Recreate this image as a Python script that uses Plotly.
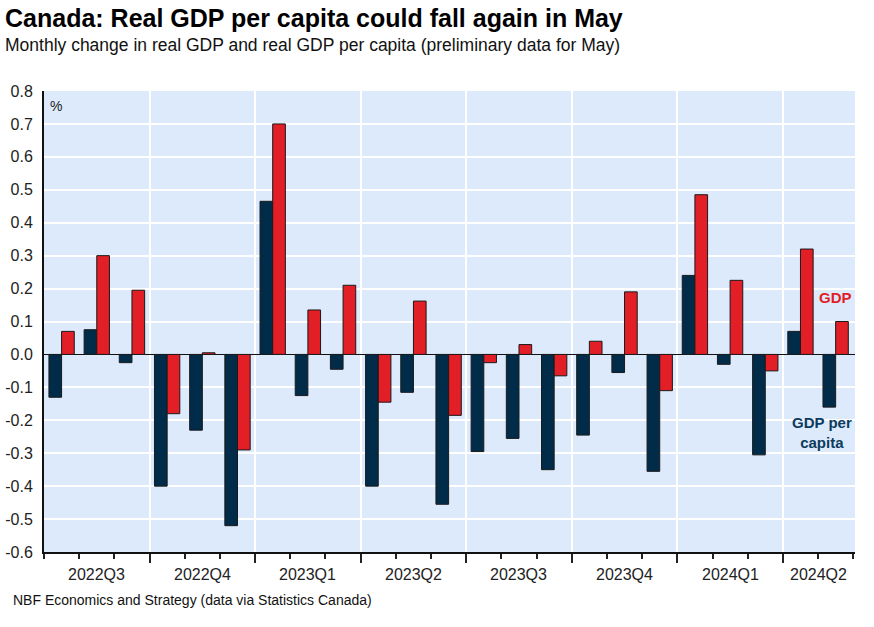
import plotly.graph_objects as go

months = ["2022-07","2022-08","2022-09","2022-10","2022-11","2022-12",
          "2023-01","2023-02","2023-03","2023-04","2023-05","2023-06",
          "2023-07","2023-08","2023-09","2023-10","2023-11","2023-12",
          "2024-01","2024-02","2024-03","2024-04","2024-05"]
gdp_per_capita = [-0.13, 0.075, -0.025, -0.40, -0.23, -0.52,
                  0.465, -0.125, -0.045, -0.40, -0.115, -0.455,
                  -0.295, -0.255, -0.35, -0.245, -0.055, -0.355,
                  0.24, -0.03, -0.305, 0.07, -0.16]
gdp = [0.07, 0.30, 0.195, -0.18, 0.005, -0.29,
       0.70, 0.135, 0.21, -0.145, 0.162, -0.185,
       -0.025, 0.03, -0.065, 0.04, 0.19, -0.11,
       0.485, 0.225, -0.05, 0.32, 0.10]
quarters = ["2022Q3","2022Q4","2023Q1","2023Q2","2023Q3","2023Q4","2024Q1","2024Q2"]
y_ticks = [0.8,0.7,0.6,0.5,0.4,0.3,0.2,0.1,0.0,-0.1,-0.2,-0.3,-0.4,-0.5,-0.6]

NAVY = "#002C4A"
RED = "#E21E26"
FONT = "Liberation Sans, Arial, sans-serif"

x = list(range(len(months)))
fig = go.Figure()
fig.add_bar(x=x, y=gdp_per_capita, name="GDP per capita", marker_color=NAVY,
            marker_line_color="#1a1a1a", marker_line_width=1)
fig.add_bar(x=x, y=gdp, name="GDP", marker_color=RED,
            marker_line_color="#1a1a1a", marker_line_width=1)

n = len(months)
month_edges = [i - 0.5 for i in range(n + 1)]
quarter_edges = [i - 0.5 for i in range(0, n + 1, 3)]
quarter_centers = []
for qi, q in enumerate(quarters):
    start = qi * 3
    end = min(start + 3, n)
    quarter_centers.append((start + end - 1) / 2)

fig.update_layout(
    width=874, height=627,
    margin=dict(l=44, r=19, t=91, b=75, autoexpand=False),
    paper_bgcolor="white", plot_bgcolor="#DDEAFB",
    barmode="group", bargap=0.28, bargroupgap=0,
    showlegend=False,
    font=dict(family=FONT, color="#111111"),
)
fig.update_xaxes(
    range=[-0.5, n - 0.5 + 0.05],
    tickvals=month_edges, ticktext=[""] * len(month_edges),
    ticks="outside", ticklen=5, tickwidth=1.5, tickcolor="#222",
    showgrid=False, automargin=False,
    minor=dict(tickvals=quarter_edges[1:], ticklen=9, tickwidth=1.5, tickcolor="#222",
               ticks="outside", showgrid=True, gridcolor="white", gridwidth=2),
    showline=True, linecolor="#111", linewidth=2,
    zeroline=False,
)
fig.update_yaxes(
    range=[-0.6, 0.8], automargin=False,
    tickvals=y_ticks, ticktext=[f"{v:.1f}" for v in y_ticks],
    tickfont=dict(size=16, color="#222"),
    showgrid=True, gridcolor="white", gridwidth=2,
    showline=True, linecolor="#111", linewidth=2,
    zeroline=True, zerolinecolor="#111", zerolinewidth=1,
    ticks="", ticklabelstandoff=6,
)

for qc, q in zip(quarter_centers, quarters):
    fig.add_annotation(x=qc, y=0, xref="x", yref="paper", text=q, showarrow=False,
                       yanchor="top", yshift=-12, font=dict(size=16, color="#222"))

fig.add_annotation(x=0.005, y=0.99, xref="paper", yref="paper", text="%", showarrow=False,
                   xanchor="left", yanchor="top", font=dict(size=14, color="#222"))
fig.add_annotation(x=22.0, y=0.174, xref="x", yref="y", text="<b>GDP</b>", showarrow=False,
                   font=dict(size=15, color=RED))
fig.add_annotation(x=21.6, y=-0.175, xref="x", yref="y", text="<b>GDP per<br>capita</b>", showarrow=False,
                   yanchor="top", font=dict(size=15, color="#0B3B5E"))

fig.add_annotation(x=0, y=1, xref="paper", yref="paper", xshift=-41, yshift=89,
                   text="<b>Canada: Real GDP per capita could fall again in May</b>", showarrow=False,
                   xanchor="left", yanchor="top", font=dict(size=25, color="black"))
fig.add_annotation(x=0, y=1, xref="paper", yref="paper", xshift=-41, yshift=58,
                   text="Monthly change in real GDP and real GDP per capita (preliminary data for May)",
                   showarrow=False, xanchor="left", yanchor="top", font=dict(size=17.5, color="#111"))
fig.add_annotation(x=0, y=0, xref="paper", yref="paper", xshift=-33, yshift=-38,
                   text="NBF Economics and Strategy (data via Statistics Canada)",
                   showarrow=False, xanchor="left", yanchor="top", font=dict(size=14, color="#111"))

fig.write_html("out.html", config={"displayModeBar": False},
               post_script="document.body.style.margin='0';")
